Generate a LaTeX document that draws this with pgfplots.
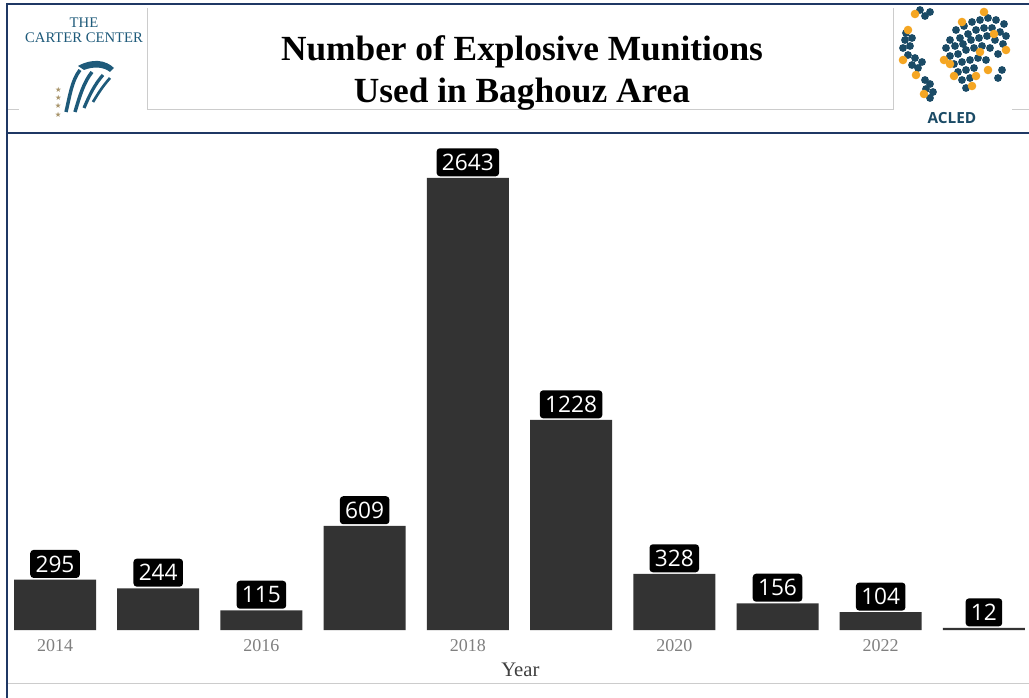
\documentclass[border=0pt]{standalone}
\usepackage{pgfplots}
\pgfplotsset{compat=1.18}
\usepackage{fontspec}
\setmainfont{Liberation Serif}
\newfontfamily\lblfont{Open Sans}
\newfontfamily\symfont{DejaVu Sans}
\definecolor{navy}{HTML}{1F3864}
\definecolor{barc}{HTML}{333333}
\definecolor{cteal}{HTML}{1E5A7A}
\definecolor{aorange}{HTML}{F5A623}
\definecolor{anavy}{HTML}{1B4B66}
\definecolor{gold}{HTML}{A8946A}
\begin{document}
\begin{tikzpicture}
\begin{scope}[x=0.75pt,y=-0.75pt]
\path[use as bounding box] (0,0) rectangle (1029,698);
\fill[white] (0,0) rectangle (1029,698);
% light boxes
\draw[black!20,line width=0.75pt] (8,110)--(19,110);
\draw[black!20,line width=0.75pt] (147,8)--(147,110)--(893,110);
\draw[black!20,line width=0.75pt] (893,8)--(893,110);
\draw[black!20,line width=0.75pt] (1012,110)--(1029,110);
\draw[black!20,line width=0.75pt] (8,683)--(1029,683);
% frame
\draw[navy,line width=1.8pt] (7,4)--(1029,4);
\draw[navy,line width=1.6pt] (7,3)--(7,698);
\draw[navy,line width=2.2pt] (7,133)--(1029,133);
% title
\node[font=\bfseries\fontsize{26.5}{31}\selectfont,align=center] at (522,73) {Number of Explosive Munitions\\Used in Baghouz Area};
% Carter Center logo
\node[cteal,font=\fontsize{11}{12}\selectfont] at (84,23) {THE};
\node[cteal,font=\fontsize{11}{12}\selectfont] at (84,38) {CARTER CENTER};
\fill[cteal] (78,66) .. controls (92,58) and (106,60) .. (114,68) -- (110,72) .. controls (104,67) and (94,66) .. (84,70) -- cycle;
\draw[cteal,line width=2.6pt] (66,112) .. controls (70,95) and (72,80) .. (80,70);
\draw[cteal,line width=2.6pt] (75,112) .. controls (80,95) and (84,82) .. (92,72);
\draw[cteal,line width=2.4pt] (84,108) .. controls (90,94) and (95,84) .. (103,75);
\draw[cteal,line width=2pt] (93,102) .. controls (99,92) and (103,86) .. (110,78);
\foreach \yy in {90,98,106,115}{\node[gold,font=\symfont\fontsize{5.5}{5.5}\selectfont,inner sep=0pt] at (60-\yy/60,\yy) {★};}
% ACLED logo
\foreach \p in {(905,40),(903,48),(910,46),(908,55),(915,58),(912,65),(918,68),(922,62),(906,33),(912,38),(925,80),(930,84),(926,89),(933,92),(930,98),(920,10),(925,16),(930,12),(956,30),(964,26),(972,22),(980,20),(988,18),(996,20),(1004,24),(960,38),(968,34),(976,30),(984,28),(992,28),(1000,32),(955,46),(963,44),(971,40),(979,38),(987,36),(995,40),(1003,44),(950,56),(958,54),(966,50),(974,48),(982,46),(990,48),(998,54),(954,64),(962,62),(970,60),(978,58),(986,60),(958,72),(966,70),(974,68),(962,80),(970,78),(966,88),(1002,70),(998,78),(1006,36),(946,48),(950,40)}
  {\fill[anavy] \p circle (3.9);}
\foreach \p in {(908,30),(903,60),(916,75),(924,94),(915,14),(962,22),(984,12),(994,34),(980,52),(954,76),(950,64),(972,86),(1006,50),(988,70),(944,60),(976,76)}
  {\fill[aorange] \p circle (4.3);}
\node[anavy,font=\lblfont\bfseries\fontsize{11.5}{12}\selectfont] at (952,118) {ACLED};
\end{scope}
\begin{axis}[at={(2.55pt,-472.5pt)},anchor=south west,scale only axis,
  width=767.9pt,height=359.25pt,
  xmin=2013.5,xmax=2023.42,ymin=0,ymax=2800,
  axis line style={draw=none},ytick=\empty,
  xtick={2014,2016,2018,2020,2022},major tick length=0pt,
  /pgf/number format/assume math mode=true,/pgf/number format/1000 sep={},
  xticklabel style={font=\fontsize{13.5}{13.5}\selectfont,text=black!50,yshift=-3.5pt},
  xlabel={Year},xlabel style={font=\fontsize{15.5}{16}\selectfont,text=black!75,xshift=3.75pt,yshift=-1.5pt},
  ybar,bar width=61.5pt,clip=false,
  nodes near coords,
  every node near coord/.append style={fill=black,text=white,rounded corners=2.5pt,
    font=\lblfont\fontsize{17}{17}\selectfont,inner xsep=4pt,inner ysep=0pt,
    minimum height=21pt,anchor=south,yshift=1pt},
]
\addplot[fill=barc,draw=none] coordinates {(2014,295) (2015,244) (2016,115) (2017,609) (2018,2643) (2019,1228) (2020,328) (2021,156) (2022,104) (2023,12)};
\end{axis}
\end{tikzpicture}
\end{document}
